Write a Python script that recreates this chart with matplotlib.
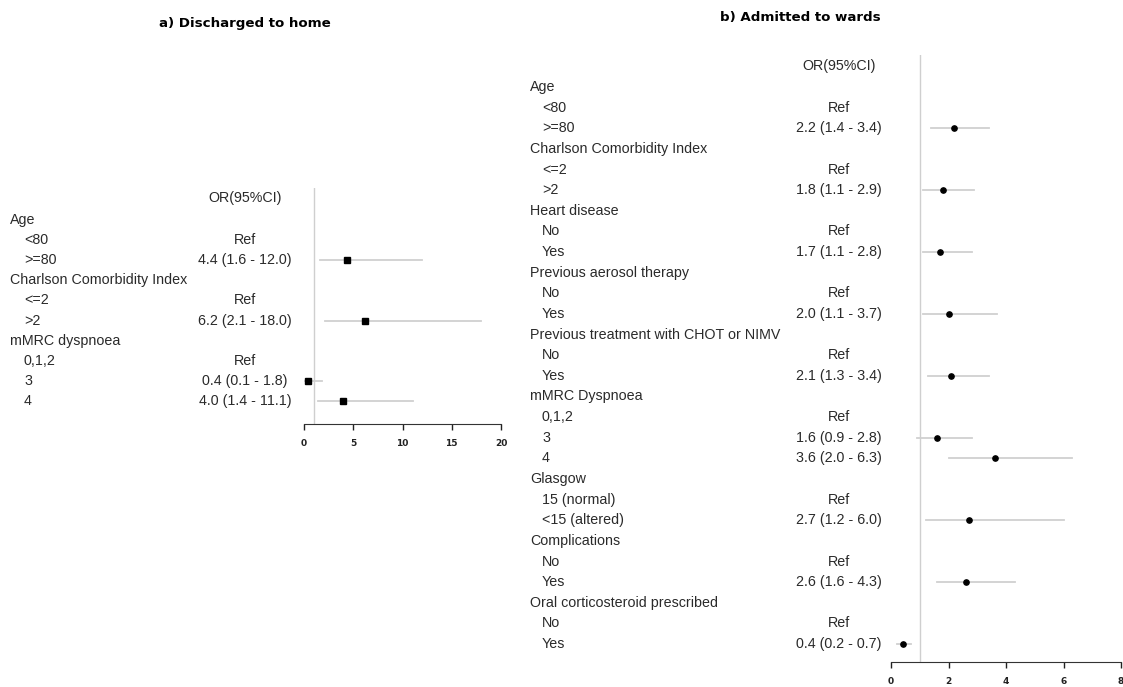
import numpy as np
import matplotlib
matplotlib.use("Agg")
import matplotlib.pyplot as plt
from matplotlib.transforms import blended_transform_factory

# a) Discharged to home
a_groups = ["Age", "Charlson Comorbidity Index", "mMRC dyspnoea"]
a_levels = [["<80", ">=80"], ["<=2", ">2"], ["0,1,2", "3", "4"]]
a_or = [np.nan, 4.4, np.nan, 6.2, np.nan, 0.4, 4.0]
a_lo = [np.nan, 1.6, np.nan, 2.1, np.nan, 0.1, 1.4]
a_hi = [np.nan, 12.0, np.nan, 18.0, np.nan, 1.8, 11.1]
a_ticks = [0, 5, 10, 15, 20]

# b) Admitted to wards
b_groups = ["Age", "Charlson Comorbidity Index", "Heart disease",
            "Previous aerosol therapy", "Previous treatment with CHOT or NIMV",
            "mMRC Dyspnoea", "Glasgow", "Complications",
            "Oral corticosteroid prescribed"]
b_levels = [["<80", ">=80"], ["<=2", ">2"], ["No", "Yes"], ["No", "Yes"],
            ["No", "Yes"], ["0,1,2", "3", "4"], ["15 (normal)", "<15 (altered)"],
            ["No", "Yes"], ["No", "Yes"]]
b_or = [np.nan, 2.2, np.nan, 1.8, np.nan, 1.7, np.nan, 2.0, np.nan, 2.1,
        np.nan, 1.6, 3.6, np.nan, 2.7, np.nan, 2.6, np.nan, 0.4]
b_lo = [np.nan, 1.4, np.nan, 1.1, np.nan, 1.1, np.nan, 1.1, np.nan, 1.3,
        np.nan, 0.9, 2.0, np.nan, 1.2, np.nan, 1.6, np.nan, 0.2]
b_hi = [np.nan, 3.4, np.nan, 2.9, np.nan, 2.8, np.nan, 3.7, np.nan, 3.4,
        np.nan, 2.8, 6.3, np.nan, 6.0, np.nan, 4.3, np.nan, 0.7]
b_ticks = [0, 2, 4, 6, 8]

W, H = 1123, 687
plt.rcParams['font.family'] = ['Liberation Sans', 'DejaVu Sans']
fig = plt.figure(figsize=(W / 100, H / 100), dpi=100)


def px_box(left, top, right, bottom):
    return [left / W, 1 - bottom / H, (right - left) / W, (bottom - top) / H]


def forest(ax, groups, levels, ors, los, his, ticks, x_head, x_sub, x_or,
           ylim, head_y, marker="s", fs=10.3):
    trans = blended_transform_factory(fig.transFigure, ax.transData)
    row = 0
    k = 0
    for g, lv in zip(groups, levels):
        ax.text(x_head / W, row, g, transform=trans, ha="left", va="center",
                fontsize=fs, color="#2a2a2a")
        row += 1
        for name in lv:
            ax.text(x_sub / W, row, name, transform=trans, ha="left",
                    va="center", fontsize=fs, color="#2a2a2a")
            if np.isnan(ors[k]):
                txt = "Ref"
            else:
                txt = f"{ors[k]:.1f} ({los[k]:.1f} - {his[k]:.1f})"
                ax.plot([los[k], his[k]], [row, row], color="#d0d0d0",
                        lw=1.3, zorder=1)
                ax.plot(ors[k], row, marker=marker, ms=3.8, color="black",
                        zorder=2)
            ax.text(x_or / W, row, txt, transform=trans, ha="center",
                    va="center", fontsize=fs, color="#2a2a2a")
            row += 1
            k += 1
    ax.text(x_or / W, head_y, "OR(95%CI)", transform=trans, ha="center",
            va="center", fontsize=fs, color="#2a2a2a")
    ax.axvline(1, color="#cfcfcf", lw=1, zorder=0)
    ax.set_ylim(*ylim)
    ax.set_xlim(ticks[0], ticks[-1])
    ax.set_xticks(ticks)
    ax.set_xticklabels([str(t) for t in ticks], fontsize=6.5,
                       fontweight="bold", family="DejaVu Sans")
    ax.tick_params(axis="x", length=4, width=1, pad=7, colors="#222222")
    ax.set_yticks([])
    for s in ["left", "right", "top"]:
        ax.spines[s].set_visible(False)
    ax.spines["bottom"].set_bounds(ticks[0], ticks[-1])
    ax.spines["bottom"].set_color("#333333")
    ax.patch.set_alpha(0)


ax_a = fig.add_axes(px_box(304, 188, 501, 424))
forest(ax_a, a_groups, a_levels, a_or, a_lo, a_hi, a_ticks,
       10, 24, 245, (10.14, -1.59), -1.1)

ax_b = fig.add_axes(px_box(891, 55, 1121, 662))
forest(ax_b, b_groups, b_levels, b_or, b_lo, b_hi, b_ticks,
       530, 542, 839, (27.87, -1.55), -1.02, marker="o")
for lab in ax_b.get_xticklabels():
    lab.set_clip_on(False)

fig.text(245 / W, 1 - 23 / H, "a) Discharged to home", ha="center",
         va="center", fontsize=9.6, fontweight="bold", family="DejaVu Sans")
fig.text(800 / W, 1 - 18 / H, "b) Admitted to wards", ha="center",
         va="center", fontsize=9.6, fontweight="bold", family="DejaVu Sans")

fig.savefig("out.png", dpi=100)
